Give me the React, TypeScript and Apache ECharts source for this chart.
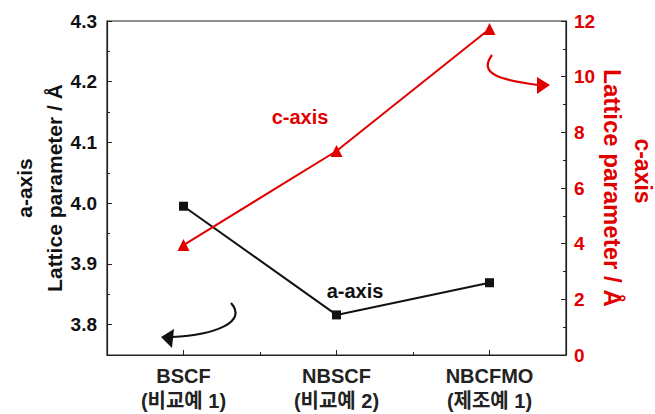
import React, { useEffect, useRef } from "react";
import * as echarts from "echarts";

const categories = ["BSCF", "NBSCF", "NBCFMO"];
const subLabels = ["(비교예 1)", "(비교예 2)", "(제조예 1)"];
const aAxisValues = [3.995, 3.816, 3.869];
const cAxisValues = [3.95, 7.33, 11.71];
const leftMajorTicks = [3.8, 3.9, 4.0, 4.1, 4.2, 4.3];
const leftMinorTicks = [3.75, 3.85, 3.95, 4.05, 4.15, 4.25];

const RED = "#e10000";
const BLACK = "#111111";
const FONT = "'Liberation Sans', Arial, sans-serif";
const KFONT = "'Liberation Sans', 'Noto Sans CJK KR', sans-serif";

export default function App() {
  const ref = useRef<HTMLDivElement>(null);
  useEffect(() => {
    if (!ref.current) return;
    const chart = echarts.init(ref.current, null, { renderer: "svg" });
    const option: any = {
      animation: false,
      backgroundColor: "#ffffff",
      grid: {
        left: 107,
        right: 89,
        top: 21,
        bottom: 59,
        containLabel: false,
        show: true,
        borderColor: "#222",
        borderWidth: 1.2,
      },
      xAxis: [
        {
          type: "category",
          data: categories,
          boundaryGap: true,
          axisLine: { show: true, lineStyle: { color: "#222", width: 1.2 } },
          axisTick: { show: true, inside: true, alignWithLabel: true, length: 5, lineStyle: { color: "#222" } },
          axisLabel: {
            margin: 8,
            interval: 0,
            formatter: (v: string, i: number) => `{a|${v}}\n{b|${subLabels[i]}}`,
            rich: {
              a: { fontFamily: FONT, fontWeight: "bold", fontSize: 20, color: "#222", lineHeight: 25 },
              b: { fontFamily: KFONT, fontWeight: "bold", fontSize: 20, color: "#222", lineHeight: 25 },
            },
          },
          splitLine: { show: false },
        },
        {
          type: "category",
          data: categories,
          boundaryGap: true,
          position: "bottom",
          axisLine: { show: false },
          axisTick: { show: true, inside: true, alignWithLabel: false, length: 3, lineStyle: { color: "#222" } },
          axisLabel: { show: false },
          splitLine: { show: false },
        },
      ],
      yAxis: [
        {
          type: "value",
          min: 3.75,
          max: 4.3,
          position: "left",
          name: "Lattice parameter / Å",
          nameLocation: "middle",
          nameRotate: 90,
          nameGap: 42,
          nameMoveOverlap: false,
          nameTextStyle: { fontFamily: FONT, fontWeight: "bold", fontSize: 21, color: BLACK },
          axisLine: { show: true, lineStyle: { color: "#222", width: 1.2 } },
          axisTick: { show: true, inside: true, length: 5, customValues: leftMajorTicks, lineStyle: { color: "#222" } },
          axisLabel: {
            customValues: leftMajorTicks,
            formatter: (v: number) => v.toFixed(1),
            fontFamily: FONT,
            fontWeight: "bold",
            fontSize: 19,
            color: BLACK,
            margin: 10,
          },
          splitLine: { show: false },
        },
        {
          type: "value",
          min: 0,
          max: 12,
          interval: 2,
          position: "right",
          name: "Lattice parameter / Å",
          nameLocation: "middle",
          nameRotate: -90,
          nameGap: 34,
          nameMoveOverlap: false,
          nameTextStyle: { fontFamily: FONT, fontWeight: "bold", fontSize: 24, color: RED },
          axisLine: { show: true, lineStyle: { color: "#222", width: 1.2 } },
          axisTick: { show: true, inside: true, length: 5, lineStyle: { color: "#222" } },
          minorTick: { show: true, splitNumber: 2, length: 3, lineStyle: { color: "#222" } },
          axisLabel: { fontFamily: FONT, fontWeight: "bold", fontSize: 19, color: RED, margin: 8 },
          splitLine: { show: false },
        },
        {
          type: "value",
          min: 3.75,
          max: 4.3,
          position: "left",
          axisLine: { show: false },
          axisTick: { show: true, inside: true, length: 3, customValues: leftMinorTicks, lineStyle: { color: "#222" } },
          axisLabel: { show: false },
          splitLine: { show: false },
        },
      ],
      series: [
        {
          name: "a-axis",
          type: "line",
          yAxisIndex: 0,
          data: aAxisValues,
          symbol: "rect",
          symbolSize: 9,
          lineStyle: { color: BLACK, width: 2 },
          itemStyle: { color: BLACK },
        },
        {
          name: "c-axis",
          type: "line",
          yAxisIndex: 1,
          data: cAxisValues,
          symbol: "triangle",
          symbolSize: 12,
          lineStyle: { color: RED, width: 2 },
          itemStyle: { color: RED },
        },
      ],
      graphic: [
        {
          type: "text",
          x: 24,
          y: 188,
          rotation: Math.PI / 2,
          style: {
            text: "a-axis",
            fontFamily: FONT,
            fontWeight: "bold",
            fontSize: 21,
            fill: BLACK,
            align: "center",
            verticalAlign: "middle",
          },
        },
        {
          type: "text",
          x: 643,
          y: 171,
          rotation: -Math.PI / 2,
          style: {
            text: "c-axis",
            fontFamily: FONT,
            fontWeight: "bold",
            fontSize: 23,
            fill: RED,
            align: "center",
            verticalAlign: "middle",
          },
        },
        {
          type: "text",
          x: 300,
          y: 117,
          style: {
            text: "c-axis",
            fontFamily: FONT,
            fontWeight: "bold",
            fontSize: 20,
            fill: RED,
            align: "center",
            verticalAlign: "middle",
          },
        },
        {
          type: "text",
          x: 355,
          y: 291,
          style: {
            text: "a-axis",
            fontFamily: FONT,
            fontWeight: "bold",
            fontSize: 20,
            fill: BLACK,
            align: "center",
            verticalAlign: "middle",
          },
        },
        {
          type: "bezierCurve",
          shape: { x1: 231, y1: 303, cpx1: 248, cpy1: 322, cpx2: 215, cpy2: 335, x2: 172, y2: 337 },
          style: { stroke: BLACK, lineWidth: 2.2, fill: null },
        },
        {
          type: "polygon",
          shape: { points: [[161, 337], [174, 329], [172, 348]] },
          style: { fill: BLACK },
        },
        {
          type: "bezierCurve",
          shape: { x1: 492, y1: 55, cpx1: 478, cpy1: 74, cpx2: 500, cpy2: 80, x2: 538, y2: 85 },
          style: { stroke: RED, lineWidth: 2.2, fill: null },
        },
        {
          type: "polygon",
          shape: { points: [[550, 85], [537, 77], [537, 94]] },
          style: { fill: RED },
        },
      ],
    };
    chart.setOption(option);
    return () => chart.dispose();
  }, []);
  return <div ref={ref} style={{ width: 655, height: 414, position: "absolute", left: 0, top: 0 }} />;
}
